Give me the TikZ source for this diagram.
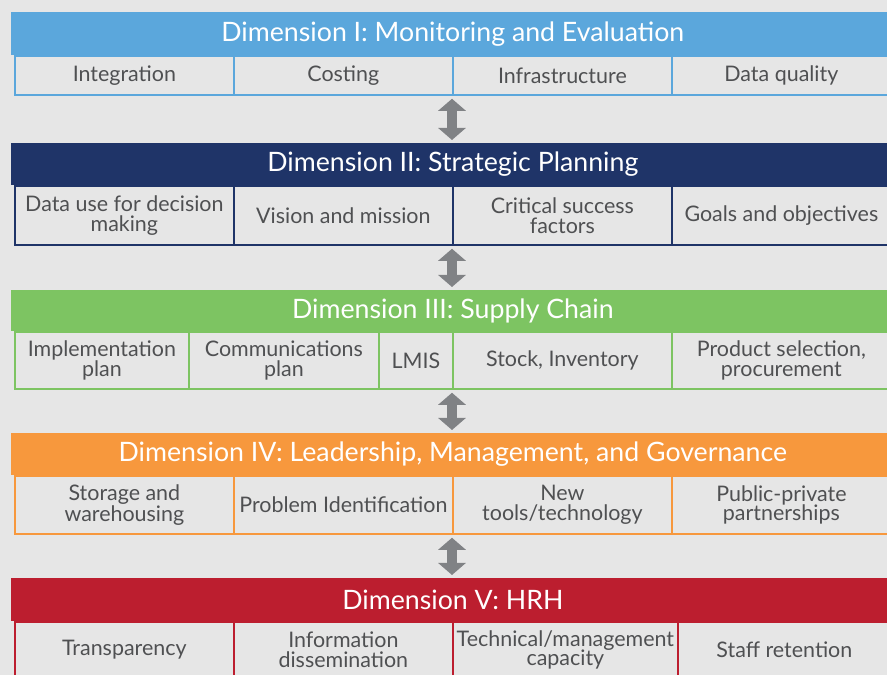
\documentclass[tikz,border=0pt]{standalone}
\usepackage{fontspec}
\setmainfont{Lato}
\usepackage{tikz}
\usetikzlibrary{arrows.meta}
\definecolor{dimbg}{HTML}{E6E6E6}
\definecolor{dimblue}{HTML}{5BA7DC}
\definecolor{dimnavy}{HTML}{1F3468}
\definecolor{dimgreen}{HTML}{7DC462}
\definecolor{dimorange}{HTML}{F7983D}
\definecolor{dimred}{HTML}{BC1E2F}
\definecolor{dimgray}{HTML}{808285}
\definecolor{dimtext}{HTML}{4F5052}
\tikzset{
  band/.style={anchor=north west, inner sep=0pt, minimum width=17.66cm,
    text=white, font=\fontsize{15.2}{17}\selectfont},
  cell/.style={draw, line width=1pt, fill=dimbg, anchor=north west,
    inner sep=0pt, align=center, text=dimtext,
    font=\fontsize{12.2}{11.2}\selectfont},
  linkarrow/.style={dimgray, line width=0.2cm,
    {Triangle[width=0.54cm,length=0.24cm]}-{Triangle[width=0.54cm,length=0.24cm]},
    shorten <=0.06cm, shorten >=0.06cm}
}

\begin{document}
\begin{tikzpicture}

  \useasboundingbox (0,0) rectangle (17.74,13.5);
  \fill[dimbg] (0,0) rectangle (17.74,13.5);

  % Dimension I
  \node[band, fill=dimblue, minimum height=0.86cm] (b1) at (0.22,13.26)
    {Dimension I: Monitoring and Evaluation};
  \begin{scope}[every node/.append style={cell, draw=dimblue,
      minimum width=4.38cm, minimum height=0.78cm}]
    \node (c1a) at (0.28,12.40) {Integration};
    \node (c1b) at (4.66,12.40) {Costing};
    \node (c1c) at (9.04,12.40) {Infrastructure};
    \node (c1d) at (13.42,12.40) {Data quality};
  \end{scope}

  % Dimension II
  \node[band, fill=dimnavy, minimum height=0.84cm] (b2) at (0.22,10.64)
    {Dimension II: Strategic Planning};
  \begin{scope}[every node/.append style={cell, draw=dimnavy,
      minimum width=4.38cm, minimum height=1.18cm}]
    \node (c2a) at (0.28,9.80) {Data use for decision\\making};
    \node (c2b) at (4.66,9.80) {Vision and mission};
    \node (c2c) at (9.04,9.80) {Critical success\\factors};
    \node (c2d) at (13.42,9.80) {Goals and objectives};
  \end{scope}

  % Dimension III
  \node[band, fill=dimgreen, minimum height=0.82cm] (b3) at (0.22,7.70)
    {Dimension III: Supply Chain};
  \begin{scope}[every node/.append style={cell, draw=dimgreen,
      minimum height=1.14cm}]
    \node[minimum width=3.48cm] (c3a) at (0.28,6.88) {Implementation\\plan};
    \node[minimum width=3.80cm] (c3b) at (3.76,6.88) {Communications\\plan};
    \node[minimum width=1.48cm] (c3c) at (7.56,6.88) {LMIS};
    \node[minimum width=4.38cm] (c3d) at (9.04,6.88) {Stock, Inventory};
    \node[minimum width=4.38cm] (c3e) at (13.42,6.88) {Product selection,\\procurement};
  \end{scope}

  % Dimension IV
  \node[band, fill=dimorange, minimum height=0.84cm] (b4) at (0.22,4.84)
    {Dimension IV: Leadership, Management, and Governance};
  \begin{scope}[every node/.append style={cell, draw=dimorange,
      minimum width=4.38cm, minimum height=1.16cm}]
    \node (c4a) at (0.28,4.00) {Storage and\\warehousing};
    \node (c4b) at (4.66,4.00) {Problem Identification};
    \node (c4c) at (9.04,4.00) {New\\tools/technology};
    \node (c4d) at (13.42,4.00) {Public-private\\partnerships};
  \end{scope}

  % Dimension V
  \node[band, fill=dimred, minimum height=0.86cm] (b5) at (0.22,1.94)
    {Dimension V: HRH};
  \begin{scope}[every node/.append style={cell, draw=dimred,
      minimum height=1.12cm}]
    \node[minimum width=4.38cm] (c5a) at (0.28,1.08) {Transparency};
    \node[minimum width=4.38cm] (c5b) at (4.66,1.08) {Information\\dissemination};
    \node[minimum width=4.50cm] (c5c) at (9.04,1.08) {Technical/management\\capacity};
    \node[minimum width=4.26cm] (c5d) at (13.54,1.08) {Staff retention};
  \end{scope}

  % Links between dimensions
  \draw[linkarrow] (c1c.south west) -- (c1c.south west |- b2.north);
  \draw[linkarrow] (c2c.south west) -- (c2c.south west |- b3.north);
  \draw[linkarrow] (c3d.south west) -- (c3d.south west |- b4.north);
  \draw[linkarrow] (c4c.south west) -- (c4c.south west |- b5.north);

\end{tikzpicture}
\end{document}
